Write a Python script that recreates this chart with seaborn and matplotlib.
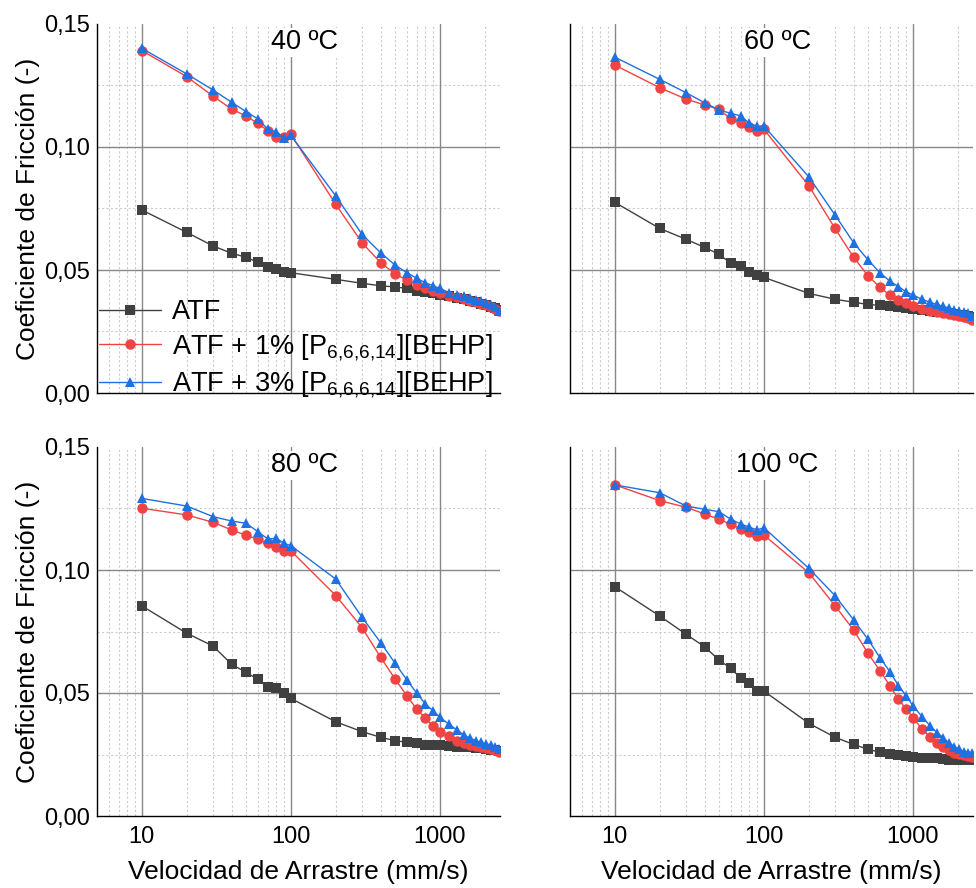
import numpy as np
import pandas as pd
import matplotlib
matplotlib.use("Agg")
import matplotlib.pyplot as plt
import seaborn as sns
from matplotlib.ticker import FuncFormatter, LogLocator, MultipleLocator, NullFormatter

# velocidades de arrastre (mm/s)
vel = [10, 20, 30, 40, 50, 60, 70, 80, 90, 100,
       200, 300, 400, 500, 600, 700, 800, 900, 1000,
       1150, 1300, 1450, 1600, 1750, 1900, 2050, 2200, 2350, 2500]

series = ["ATF",
          "ATF + 1% [P$_{6{,}6{,}6{,}14}$][BEHP]",
          "ATF + 3% [P$_{6{,}6{,}6{,}14}$][BEHP]"]
temps = ["40 ºC", "60 ºC", "80 ºC", "100 ºC"]

# 40 C
atf_40 = [0.0744, 0.0653, 0.0598, 0.0568, 0.0552, 0.0531, 0.0511, 0.0504, 0.0493, 0.0489,
          0.0462, 0.0446, 0.0436, 0.0431, 0.0425, 0.0416, 0.0411, 0.0405, 0.0400,
          0.0395, 0.0388, 0.0381, 0.0375, 0.0368, 0.0362, 0.0356, 0.0350, 0.0344, 0.0337]
il1_40 = [0.1392, 0.1286, 0.1207, 0.1154, 0.1126, 0.1096, 0.1066, 0.1042, 0.1042, 0.1051,
          0.0767, 0.0611, 0.0530, 0.0484, 0.0459, 0.0439, 0.0425, 0.0415, 0.0405,
          0.0396, 0.0389, 0.0382, 0.0375, 0.0369, 0.0362, 0.0356, 0.0350, 0.0343, 0.0332]
il3_40 = [0.1401, 0.1297, 0.1232, 0.1182, 0.1144, 0.1114, 0.1072, 0.1061, 0.1035, 0.1047,
          0.0801, 0.0645, 0.0570, 0.0520, 0.0489, 0.0466, 0.0448, 0.0436, 0.0425,
          0.0408, 0.0400, 0.0393, 0.0386, 0.0379, 0.0372, 0.0365, 0.0358, 0.0350, 0.0335]

# 60 C
atf_60 = [0.0775, 0.0669, 0.0625, 0.0592, 0.0564, 0.0527, 0.0516, 0.0493, 0.0478, 0.0470,
          0.0405, 0.0381, 0.0369, 0.0360, 0.0356, 0.0352, 0.0348, 0.0344, 0.0340,
          0.0337, 0.0334, 0.0331, 0.0328, 0.0325, 0.0322, 0.0319, 0.0316, 0.0313, 0.0308]
il1_60 = [0.1333, 0.1241, 0.1195, 0.1171, 0.1153, 0.1114, 0.1096, 0.1083, 0.1064, 0.1072,
          0.0843, 0.0669, 0.0552, 0.0476, 0.0430, 0.0397, 0.0378, 0.0365, 0.0355,
          0.0340, 0.0335, 0.0331, 0.0326, 0.0322, 0.0318, 0.0314, 0.0310, 0.0305, 0.0296]
il3_60 = [0.1365, 0.1275, 0.1221, 0.1180, 0.1150, 0.1137, 0.1126, 0.1096, 0.1085, 0.1085,
          0.0879, 0.0724, 0.0611, 0.0541, 0.0489, 0.0455, 0.0432, 0.0412, 0.0398,
          0.0381, 0.0369, 0.0360, 0.0352, 0.0345, 0.0339, 0.0334, 0.0330, 0.0324, 0.0315]

# 80 C
atf_80 = [0.0854, 0.0743, 0.0691, 0.0617, 0.0584, 0.0556, 0.0523, 0.0519, 0.0499, 0.0478,
          0.0383, 0.0343, 0.0320, 0.0306, 0.0300, 0.0296, 0.0289, 0.0289, 0.0289,
          0.0285, 0.0282, 0.0280, 0.0279, 0.0277, 0.0275, 0.0273, 0.0270, 0.0267, 0.0263]
il1_80 = [0.1251, 0.1224, 0.1194, 0.1163, 0.1141, 0.1125, 0.1108, 0.1095, 0.1078, 0.1078,
          0.0896, 0.0766, 0.0645, 0.0557, 0.0489, 0.0434, 0.0397, 0.0366, 0.0343,
          0.0325, 0.0306, 0.0296, 0.0289, 0.0284, 0.0279, 0.0275, 0.0271, 0.0267, 0.0262]
il3_80 = [0.1291, 0.1260, 0.1217, 0.1199, 0.1190, 0.1156, 0.1126, 0.1129, 0.1108, 0.1099,
          0.0963, 0.0808, 0.0705, 0.0621, 0.0553, 0.0499, 0.0454, 0.0428, 0.0401,
          0.0373, 0.0350, 0.0329, 0.0316, 0.0306, 0.0299, 0.0293, 0.0287, 0.0281, 0.0272]

# 100 C
atf_100 = [0.0932, 0.0813, 0.0739, 0.0688, 0.0634, 0.0600, 0.0560, 0.0539, 0.0508, 0.0508,
           0.0377, 0.0320, 0.0291, 0.0271, 0.0259, 0.0252, 0.0248, 0.0244, 0.0239,
           0.0234, 0.0234, 0.0234, 0.0230, 0.0228, 0.0228, 0.0228, 0.0228, 0.0228, 0.0228]
il1_100 = [0.1346, 0.1282, 0.1255, 0.1228, 0.1206, 0.1186, 0.1167, 0.1156, 0.1138, 0.1142,
           0.0989, 0.0855, 0.0756, 0.0661, 0.0591, 0.0530, 0.0474, 0.0435, 0.0400,
           0.0354, 0.0322, 0.0296, 0.0279, 0.0268, 0.0257, 0.0252, 0.0247, 0.0244, 0.0240]
il3_100 = [0.1346, 0.1314, 0.1260, 0.1247, 0.1237, 0.1206, 0.1187, 0.1174, 0.1163, 0.1172,
           0.1007, 0.0896, 0.0797, 0.0718, 0.0644, 0.0587, 0.0530, 0.0489, 0.0448,
           0.0404, 0.0367, 0.0339, 0.0318, 0.0296, 0.0282, 0.0271, 0.0261, 0.0257, 0.0255]

panels = [(atf_40, il1_40, il3_40), (atf_60, il1_60, il3_60),
          (atf_80, il1_80, il3_80), (atf_100, il1_100, il3_100)]

colors = ["#404040", "#f04343", "#1f70e0"]
markers = ["s", "o", "^"]

# lineas de rejilla
x_major = [10, 100, 1000]
x_minor = [6, 7, 8, 9, 20, 30, 40, 50, 60, 70, 80, 90,
           200, 300, 400, 500, 600, 700, 800, 900, 2000]
y_major = [0.05, 0.10]
y_minor = [0.025, 0.075, 0.125]

sns.set_style("white")
plt.rcParams["font.family"] = ["Liberation Sans", "DejaVu Sans"]
plt.rcParams["mathtext.default"] = "regular"
for k in ["text.color", "axes.labelcolor", "xtick.color", "ytick.color"]:
    plt.rcParams[k] = "black"

fig = plt.figure(figsize=(9.76, 8.88), dpi=100)
W, H = 976, 888
boxes = [(97, 24), (570, 24), (97, 447), (570, 447)]
aw, ah = 403, 369

for i, (px, py) in enumerate(boxes):
    ax = fig.add_axes([px / W, (H - py - ah) / H, aw / W, ah / H])
    atf, il1, il3 = panels[i]
    df = pd.DataFrame({
        "vel": vel * 3,
        "cof": atf + il1 + il3,
        "serie": [series[0]] * len(vel) + [series[1]] * len(vel) + [series[2]] * len(vel),
    })

    for v in x_minor:
        ax.axvline(v, color="#cccccc", lw=0.8, ls=(0, (2, 2)), zorder=0)
    for v in y_minor:
        ax.axhline(v, color="#cccccc", lw=0.8, ls=(0, (2, 2)), zorder=0)
    for v in x_major:
        ax.axvline(v, color="#888888", lw=1, zorder=0.5)
    for v in y_major:
        ax.axhline(v, color="#888888", lw=1, zorder=0.5)

    sns.lineplot(data=df, x="vel", y="cof", hue="serie", style="serie",
                 palette=colors, markers=markers, dashes=False, sort=False,
                 estimator=None, lw=1, ms=7.5, mew=0, ax=ax, legend=(i == 0),
                 zorder=3)
    ax.set_xscale("log")
    ax.set_xlim(5, 2530)
    ax.set_ylim(0, 0.15)

    ax.xaxis.set_major_locator(LogLocator(base=10))
    ax.xaxis.set_minor_locator(LogLocator(base=10, subs=np.arange(2, 10)))
    ax.xaxis.set_minor_formatter(NullFormatter())
    ax.yaxis.set_major_locator(MultipleLocator(0.05))
    ax.yaxis.set_minor_locator(MultipleLocator(0.025))
    ax.grid(False)

    for s in ["top", "right"]:
        ax.spines[s].set_visible(False)
    for s in ["left", "bottom"]:
        ax.spines[s].set_color("black")
        ax.spines[s].set_linewidth(1)

    ax.tick_params(which="both", direction="in", labelsize=17, color="black")
    ax.tick_params(axis="x", pad=7)
    ax.tick_params(axis="y", pad=5)
    ax.tick_params(which="major", length=4)
    ax.tick_params(which="minor", length=2)

    if i % 2 == 0:
        ax.yaxis.set_major_formatter(FuncFormatter(lambda v, p: f"{v:.2f}".replace(".", ",")))
        ax.set_ylabel("Coeficiente de Fricción (-)", fontsize=19, labelpad=3)
    else:
        ax.set_yticklabels([])
        ax.set_ylabel("")
    if i >= 2:
        ax.xaxis.set_major_formatter(FuncFormatter(lambda v, p: f"{v:g}"))
        ax.set_xlabel("Velocidad de Arrastre (mm/s)", fontsize=19, labelpad=9)
    else:
        ax.set_xticklabels([])
        ax.set_xlabel("")

    ax.text(0.515, 0.95, temps[i], transform=ax.transAxes, ha="center", va="center",
            fontsize=19.5, zorder=10,
            bbox=dict(facecolor="white", edgecolor="none", pad=1))

    if i == 0:
        h, l = ax.get_legend_handles_labels()
        ax.legend(h, l, loc="lower left", bbox_to_anchor=(0.005, -0.02), frameon=False,
                  fontsize=19.5, handlelength=2.3, handletextpad=0.4,
                  labelspacing=0.25, borderpad=0.0, borderaxespad=0.0)

fig.savefig("out.png", dpi=100)
